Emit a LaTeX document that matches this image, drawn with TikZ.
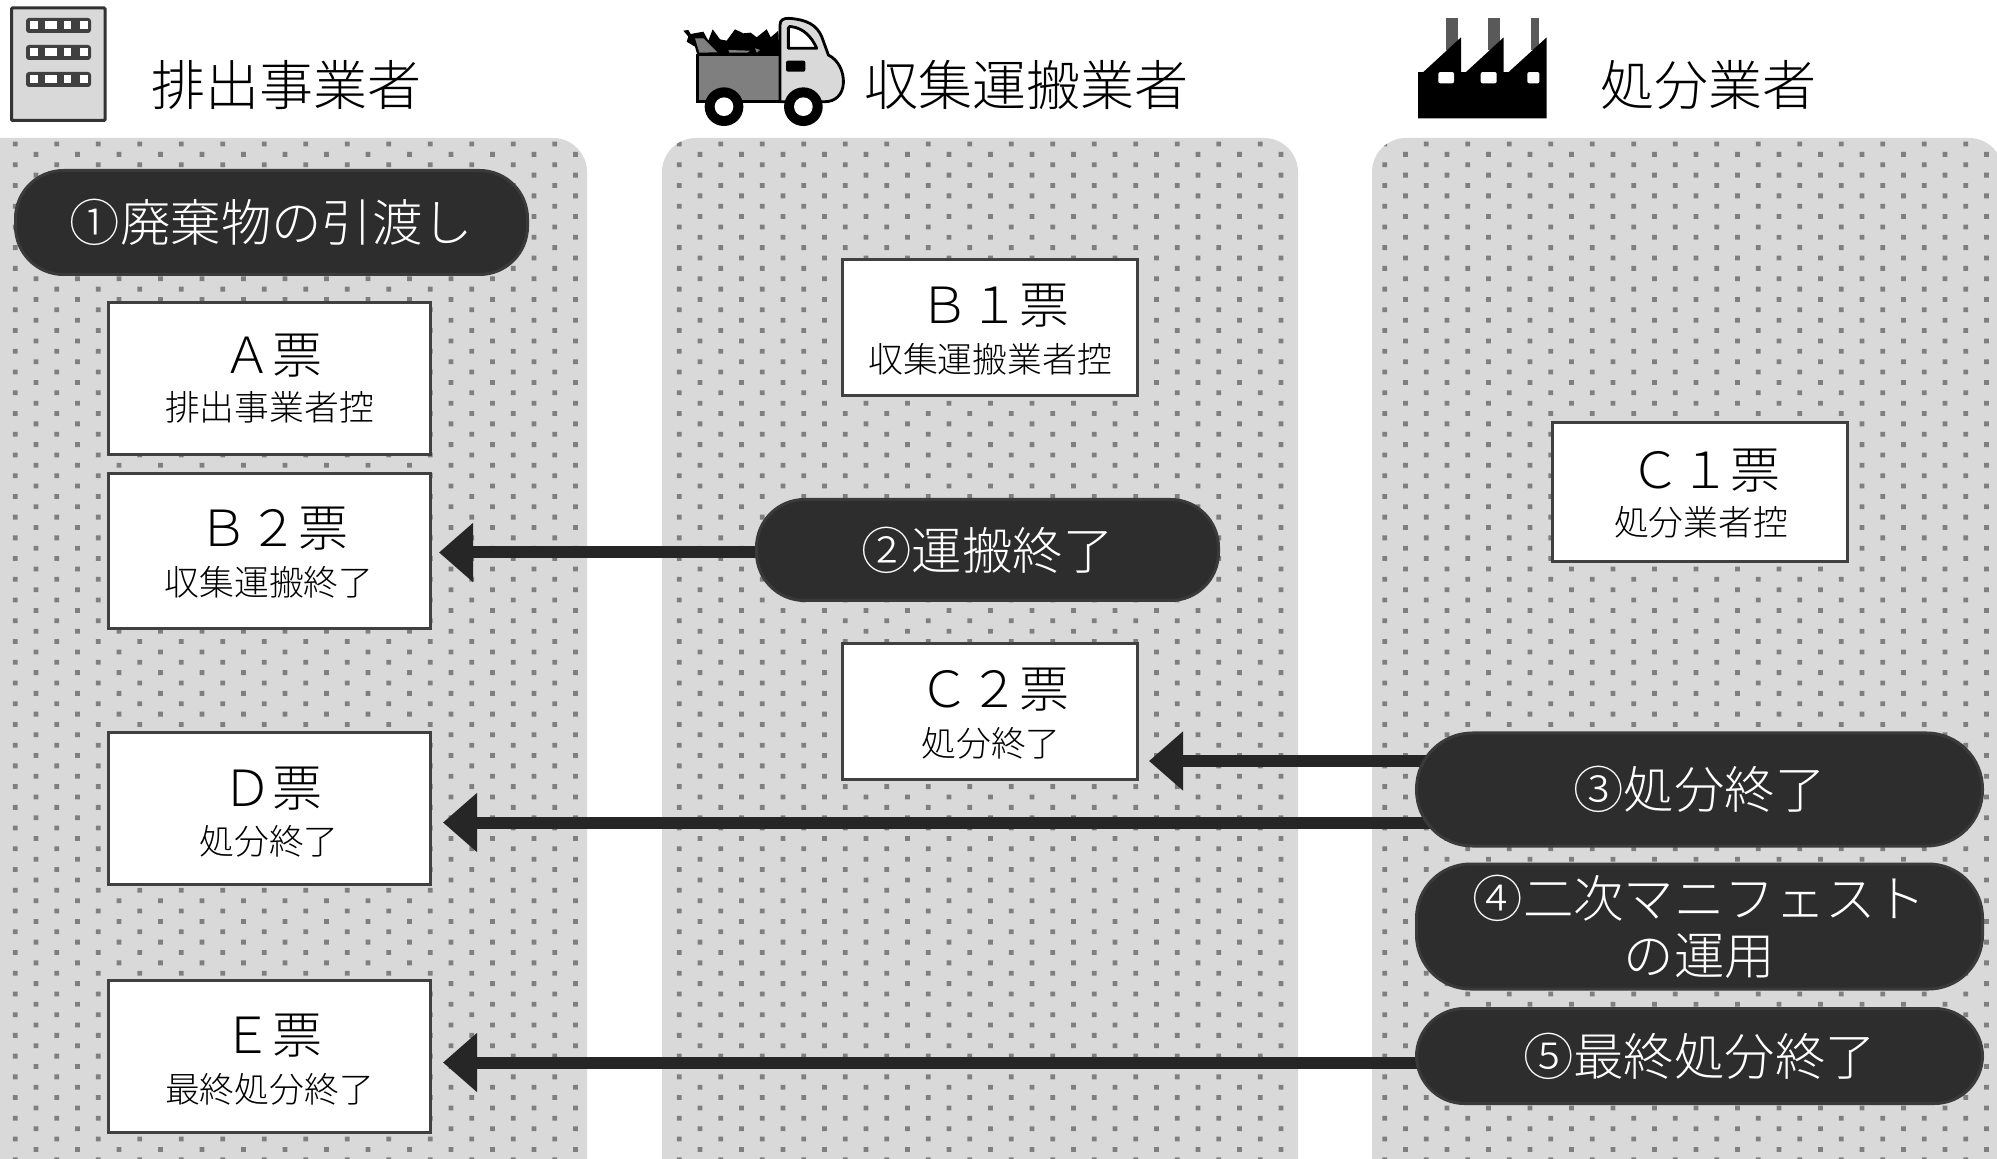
\documentclass[tikz,border=0pt]{standalone}
\usepackage{fontspec}
\usepackage{xcolor}
\usetikzlibrary{arrows.meta, positioning}
\newfontfamily\jpfont{Noto Sans CJK JP Light}
\definecolor{manipanel}{RGB}{217, 217, 217}
\definecolor{manidot}{RGB}{127, 127, 127}
\definecolor{manidark}{RGB}{45, 45, 45}
\definecolor{maniedge}{RGB}{58, 58, 58}
\definecolor{maniarrow}{RGB}{38, 38, 38}
\definecolor{maniframe}{RGB}{64, 64, 64}
\definecolor{manismoke}{RGB}{89, 89, 89}
\pgfdeclarelayer{panels}
\pgfdeclarelayer{links}
\pgfsetlayers{panels,links,main}

\begin{document}
\begin{tikzpicture}[
    x=0.5pt,
    y=-0.5pt,
    heading/.style={
        font=\jpfont\fontsize{27}{32}\selectfont,
        inner sep=0pt
    },
    pill/.style={
        rectangle,
        rounded corners=24pt,
        draw=maniedge,
        line width=1.5pt,
        fill=manidark,
        text=white,
        inner sep=0pt,
        align=center,
        font=\jpfont\fontsize{25.2}{28.5}\selectfont
    },
    slipbox/.style={
        rectangle,
        draw=maniframe,
        line width=1.5pt,
        fill=white,
        inner sep=0pt,
        minimum width=161pt,
        minimum height=76pt
    },
    slipname/.style={
        font=\jpfont\fontsize{25}{30}\selectfont,
        inner sep=0pt
    },
    slipnote/.style={
        font=\jpfont\fontsize{17.4}{20}\selectfont,
        inner sep=0pt
    },
    flowline/.style={
        -{Triangle[length=17pt,width=28.5pt]},
        line width=6pt,
        draw=maniarrow
    }
]

\useasboundingbox (0,0) rectangle (1997,1159);

% Dotted background columns
\begin{pgfonlayer}{panels}
\begin{scope}
    \clip (0,0) rectangle (1997,1159);
    \fill[manipanel, rounded corners=17pt] (-60,138) rectangle (587,1220);
    \fill[manipanel, rounded corners=17pt] (662,138) rectangle (1298,1220);
    \fill[manipanel, rounded corners=17pt] (1372,138) rectangle (2003,1220);
    \clip[rounded corners=17pt] (-60,138) rectangle (587,1220)
        (662,138) rectangle (1298,1220)
        (1372,138) rectangle (2003,1220);
    \fill[manidot] \foreach \r in {0,...,49} {
        \foreach \c in {0,...,48} {
            (12.9+41.5*\c,141.6+20.73*\r) rectangle ++(4.8,4.8)
            (-7.85+41.5*\c,152+20.73*\r) rectangle ++(4.8,4.8)
        }
    };
\end{scope}
\end{pgfonlayer}

% Building icon
\fill[manipanel, draw=black!80, line width=1.5pt, rounded corners=0.5pt] (11.5,8) rectangle (105,120.5);
\foreach \y in {18,45,72} {
    \fill[maniframe, rounded corners=1.5pt] (26,\y) rectangle (91,\y+15);
    \foreach \a/\b in {29.5/37.5, 44.5/57, 63.5/71, 79.5/87.5} {
        \fill[white] (\a,\y+3.5) rectangle (\b,\y+11.5);
    }
}

% Truck icon
\begin{scope}[shift={(660,0)}, x=0.1667pt, y=-0.1667pt]
    \fill[black] (70,92) -- (85,90) -- (92,102) -- (130,95) -- (145,122) -- (158,88) -- (180,118)
        -- (200,122) -- (225,88) -- (250,100) -- (272,98) -- (290,112) -- (320,88) -- (332,112)
        -- (355,92) -- (358,165) -- (112,165) -- (105,140) -- (80,125) -- (85,110) -- cycle;
    \fill[manidot] (105,115) -- (130,115) -- (150,135) -- (172,157) -- (118,158) -- cycle;
    \fill[manidot] (205,150) -- (270,152) -- (262,158) -- (208,158) -- cycle;
    \fill[manidot] (285,145) -- (300,150) -- (290,158) -- cycle;
    \draw[black, line width=1.4pt, fill=manidot] (112,165) rectangle (360,305);
    \draw[black, line width=1.4pt, fill=manipanel, line join=round] (360,165) -- (360,75)
        .. controls (360,60) and (370,55) .. (385,55)
        .. controls (440,58) and (470,75) .. (485,110)
        -- (505,165)
        .. controls (535,180) and (552,215) .. (550,250)
        .. controls (548,285) and (525,305) .. (495,305)
        -- (360,305) -- cycle;
    \draw[black, line width=1.4pt, fill=white, line join=round] (385,85)
        .. controls (385,80) and (390,78) .. (395,80)
        .. controls (430,85) and (455,110) .. (470,145)
        -- (385,145) -- cycle;
    \fill[black, rounded corners=1pt] (378,182) rectangle (436,215);
    \foreach \x in {192,430} {
        \fill[black] (\x,320) circle (58);
        \fill[white] (\x,320) circle (28);
    }
\end{scope}

% Factory icon
\begin{scope}[shift={(1380,0)}, x=0.1667pt, y=-0.1667pt]
    \foreach \a/\b in {198/234, 324/360, 453/477} {
        \fill[manismoke] (\a,54) rectangle (\b,150);
    }
    \fill[black] (114,355) -- (114,216) -- (130,216) -- (243,112) -- (243,216) -- (258,216)
        -- (371,112) -- (371,216) -- (386,216) -- (500,112) -- (500,355) -- cycle;
    \foreach \a/\b in {175/222, 302/350, 442/478} {
        \fill[white, rounded corners=1pt] (\a,216) rectangle (\b,250);
    }
\end{scope}

% Headings
\node[heading] (discharger) at (286,85) {排出事業者};
\node[heading] (hauler) at (1026,85) {収集運搬業者};
\node[heading] (processor) at (1708,85) {処分業者};

% Slips of the discharger
\node[slipbox] (slipa) at (269.5,378.5) {};
\node[slipbox, minimum height=77.5pt] (slipbb) at (269.5,551) {};
\node[slipbox] (slipd) at (269.5,808.5) {};
\node[slipbox] (slipe) at (269.5,1056.5) {};
\node[slipname] (slipaname) at (272,356) {Ａ票};
\node[slipnote] (slipanote) at (269.5,407.5) {排出事業者控};
\node[slipname] (slipbbname) at (273,529) {Ｂ２票};
\node[slipnote] (slipbbnote) at (269,582.5) {収集運搬終了};
\node[slipname] (slipdname) at (272,789) {Ｄ票};
\node[slipnote] (slipdnote) at (269,841.5) {処分終了};
\node[slipname] (slipename) at (272,1036) {Ｅ票};
\node[slipnote] (slipenote) at (269.5,1089.5) {最終処分終了};

% Slips of the hauler
\node[slipbox, minimum width=147.5pt, minimum height=68pt] (slipba) at (989.5,328) {};
\node[slipbox, minimum width=147.5pt, minimum height=68pt] (slipcb) at (989.5,711.5) {};
\node[slipname] (slipbaname) at (994,306) {Ｂ１票};
\node[slipnote] (slipbanote) at (990,359.5) {収集運搬業者控};
\node[slipname] (slipcbname) at (994,690) {Ｃ２票};
\node[slipnote] (slipcbnote) at (991,743.5) {処分終了};

% Slip of the processor
\node[slipbox, minimum width=147.5pt, minimum height=69.5pt] (slipca) at (1700,492.5) {};
\node[slipname] (slipcaname) at (1705,470.5) {Ｃ１票};
\node[slipnote] (slipcanote) at (1701,522.5) {処分業者控};

% Steps
\node[pill, minimum width=256pt, minimum height=52pt] (handover) at (271.5,222.5) {①廃棄物の引渡し};
\node[pill, minimum width=231pt, minimum height=50.5pt] (haulend) at (987.5,550) {②運搬終了};
\node[pill, rounded corners=28pt, minimum width=283pt, minimum height=56.5pt] (procend) at (1699.5,789.5) {③処分終了};
\node[pill, rounded corners=27pt, minimum width=283pt, minimum height=62.5pt] (second) at (1699.5,926.5) {④二次マニフェスト\\の運用};
\node[pill, minimum width=283pt, minimum height=47.5pt] (finalend) at (1699.5,1056) {⑤最終処分終了};

% Arrows
\coordinate (toslipbb) at (439,552.5);
\coordinate (toslipcb) at (1149,761);
\coordinate (toslipd) at (443,822.5);
\coordinate (toslipe) at (443,1062.5);
\begin{pgfonlayer}{links}
    \draw[flowline] (haulend.center |- toslipbb) -- (toslipbb);
    \draw[flowline] (procend.center |- toslipcb) -- (toslipcb);
    \draw[flowline] (procend.center |- toslipd) -- (toslipd);
    \draw[flowline] (finalend.center |- toslipe) -- (toslipe);
\end{pgfonlayer}

\end{tikzpicture}
\end{document}
